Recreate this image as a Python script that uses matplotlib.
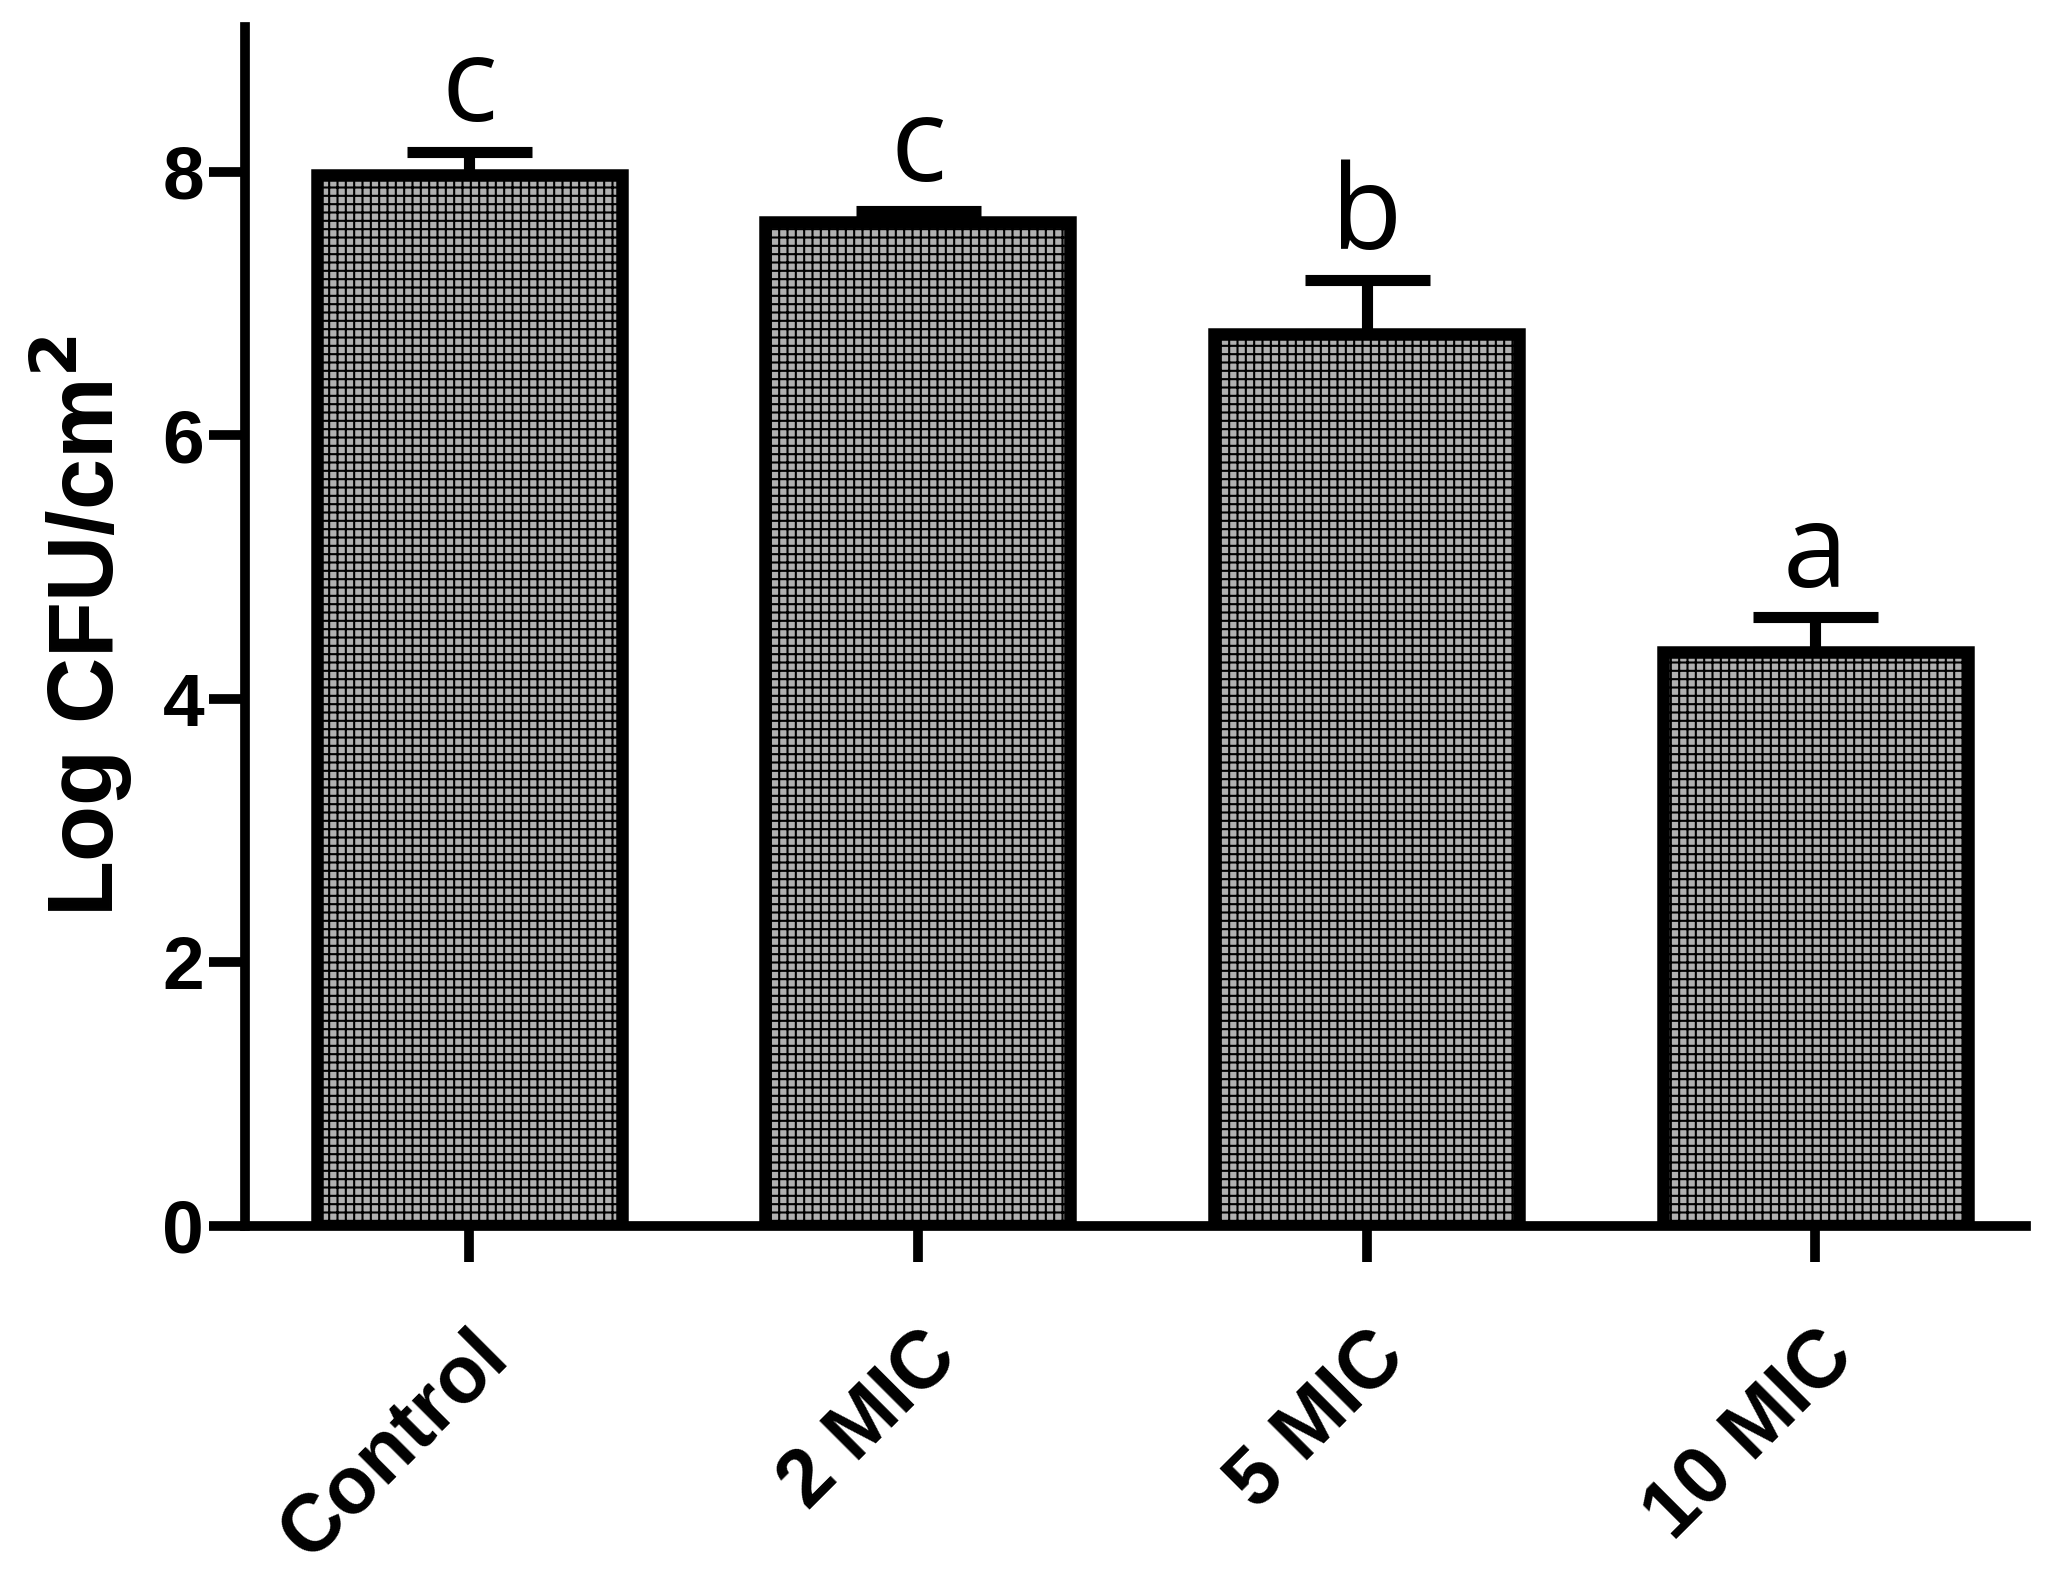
import matplotlib
matplotlib.use("Agg")
import matplotlib.pyplot as plt

categories = ["Control", "2 MIC", "5 MIC", "10 MIC"]
values = [7.98, 7.62, 6.77, 4.36]
errors = [0.17, 0.08, 0.41, 0.26]
letters = ["c", "c", "b", "a"]

plt.rcParams['hatch.linewidth'] = 1.5
fig = plt.figure(figsize=(20.59, 15.86), dpi=100)
ax = fig.add_axes([0.119, 0.227, 0.865, 0.756])
x = list(range(len(categories)))
ax.bar(x, values, width=0.68, color="#b0b0b0", edgecolor="black", linewidth=9, hatch="++", zorder=2)
ax.errorbar(x, values, yerr=[[0]*4, errors], fmt="none", ecolor="black", elinewidth=8,
            capsize=45, capthick=8, zorder=1)
for xi, v, e, l in zip(x, values, errors, letters):
    ax.text(xi, v + e + 0.02, l, ha="center", va="bottom", fontsize=84, family="Open Sans")
ax.set_xlim(-0.5, 3.47)
ax.set_ylim(0, 9.1)
ax.set_yticks([0, 2, 4, 6, 8])
ax.set_xticks(x)
ax.set_xticklabels(categories, rotation=45, ha="right", rotation_mode="anchor",
                   fontsize=58, fontweight="bold", family="Liberation Sans")
for t in ax.get_yticklabels():
    t.set_fontsize(54); t.set_fontweight("bold"); t.set_family("Liberation Sans")
ax.set_ylabel("Log CFU/cm$^\\mathbf{2}$", fontsize=66, fontweight="bold", family="Liberation Sans", labelpad=20)
for s in ["top", "right"]:
    ax.spines[s].set_visible(False)
for s in ["left", "bottom"]:
    ax.spines[s].set_linewidth(7)
ax.tick_params(axis="both", width=7, length=26, direction="out")
ax.tick_params(axis="x", pad=40)
fig.savefig("out.png", dpi=100)
